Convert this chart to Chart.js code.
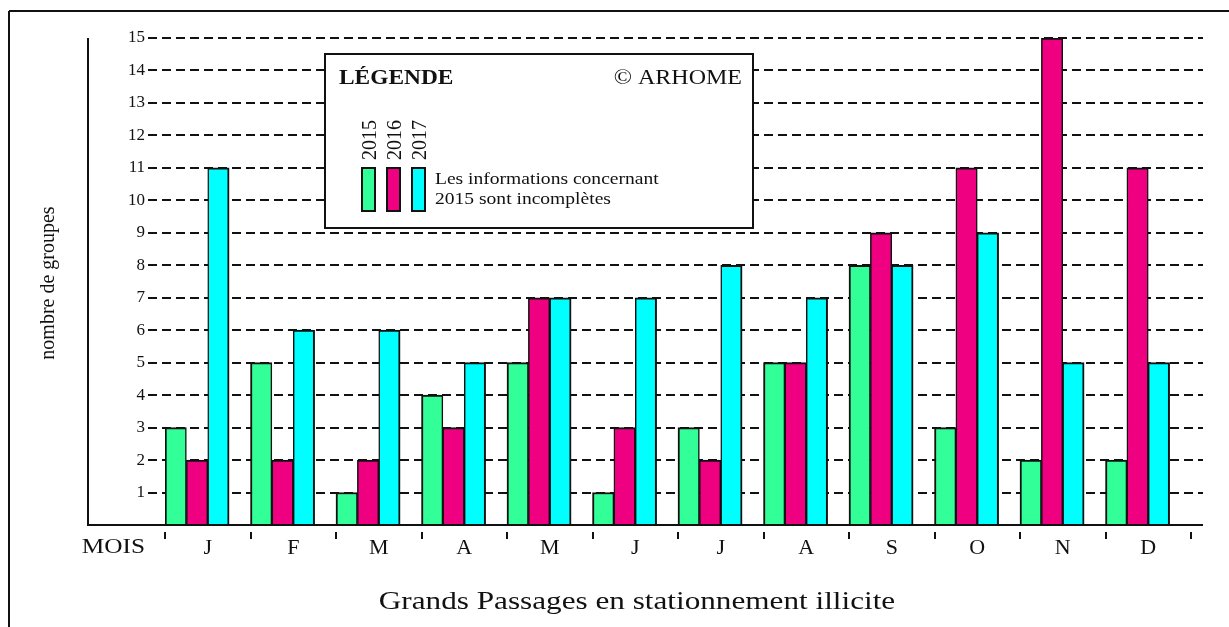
<!DOCTYPE html>
<html><head><meta charset="utf-8">
<script src="https://cdn.jsdelivr.net/npm/chart.js@4.4.1/dist/chart.umd.min.js"></script>
<style>html,body{margin:0;padding:0;background:#fff;}#wrap{width:1229px;height:627px;}</style>
</head><body><div id="wrap"><canvas id="c" width="1229" height="627"></canvas></div>
<script>
const months = ['J','F','M','A','M','J','J','A','S','O','N','D'];
const years = ['2015','2016','2017'];
const values2015 = [3,5,1,4,5,1,3,5,8,3,2,2];
const values2016 = [2,2,2,3,7,3,2,5,9,11,15,11];
const values2017 = [11,6,6,5,7,7,8,7,8,9,5,5];
const yTickValues = [1,2,3,4,5,6,7,8,9,10,11,12,13,14,15];
const colors = ['#33ff99','#ee0080','#00ffff'];
const spacer = [0,0,0,0,0,0,0,0,0,0,0,0];

const SERIF = "'Liberation Serif','Times New Roman',serif";
const INK = '#111';

function txt(ctx, s, x, y, font, align, sx) {
  ctx.save();
  ctx.font = font; ctx.textAlign = align; ctx.textBaseline = 'alphabetic';
  ctx.fillStyle = INK;
  ctx.translate(x, y); ctx.scale(sx, 1);
  ctx.fillText(s, 0, 0);
  ctx.restore();
}
function line(ctx, x1, y1, x2, y2, w) {
  ctx.beginPath(); ctx.lineWidth = w; ctx.moveTo(x1, y1); ctx.lineTo(x2, y2); ctx.stroke();
}

const deco = {
  id: 'deco',
  beforeDatasetsDraw(chart) {
    const {ctx, scales: {x, y}} = chart;
    ctx.save();
    ctx.strokeStyle = INK; ctx.setLineDash([9, 5]);
    for (const v of yTickValues) {
      const py = Math.round(y.getPixelForValue(v));
      line(ctx, x.left - 17, py, x.right + 12, py, 2);
    }
    ctx.restore();
  },
  afterDatasetsDraw(chart) {
    const {ctx, scales: {x, y}} = chart;
    ctx.save();
    ctx.strokeStyle = INK; ctx.lineCap = 'butt';
    line(ctx, 9, 11, 1229, 11, 2);
    line(ctx, 9, 11, 9, 627, 2);
    const base = y.getPixelForValue(0);
    line(ctx, 88, y.getPixelForValue(15), 88, base + 1, 2);
    line(ctx, 87, base, x.right + 12, base, 2);
    const cw = x.getPixelForValue(1) - x.getPixelForValue(0);
    for (let i = 0; i <= months.length; i++) {
      const px = Math.round(x.getPixelForValue(0) - cw / 2 + i * cw);
      line(ctx, px, base + 7, px, base + 14, 2);
    }
    txt(ctx, 'MOIS', 145, 553, '22px ' + SERIF, 'right', 1.15);
    txt(ctx, 'Grands Passages en stationnement illicite', 637, 609, '26px ' + SERIF, 'center', 1.2);
    ctx.save();
    ctx.translate(54, 283); ctx.rotate(-Math.PI / 2);
    txt(ctx, 'nombre de groupes', 0, 0, '20px ' + SERIF, 'center', 1);
    ctx.restore();
    // legend box
    ctx.fillStyle = '#fff';
    ctx.fillRect(325, 54, 428, 174);
    ctx.lineWidth = 2; ctx.strokeRect(325, 54, 428, 174);
    txt(ctx, 'LÉGENDE', 339, 84, 'bold 20px ' + SERIF, 'left', 1.17);
    txt(ctx, '© ARHOME', 742, 84, '20px ' + SERIF, 'right', 1.2);
    const sw = [362, 387, 412];
    for (let i = 0; i < 3; i++) {
      ctx.fillStyle = colors[i];
      ctx.fillRect(sw[i], 168, 13, 43);
      ctx.lineWidth = 2; ctx.strokeRect(sw[i], 168, 13, 43);
      ctx.save();
      ctx.translate(sw[i] + 14, 140); ctx.rotate(-Math.PI / 2);
      txt(ctx, years[i], 0, 0, '20px ' + SERIF, 'center', 1);
      ctx.restore();
    }
    txt(ctx, 'Les informations concernant', 435, 184, '17px ' + SERIF, 'left', 1.15);
    txt(ctx, '2015 sont incomplètes', 435, 204, '17px ' + SERIF, 'left', 1.15);
    ctx.restore();
  }
};

const seriesValues = [values2015, values2016, values2017];
const borders = [
  {left: 2, right: 1.5, top: 2, bottom: 0},
  {left: 1.5, right: 1.5, top: 2, bottom: 0},
  {left: 1.5, right: 2, top: 2, bottom: 0}
];
const datasets = seriesValues.map((d, i) => ({
  label: years[i], data: d, backgroundColor: colors[i],
  borderColor: INK, borderWidth: borders[i], borderSkipped: false
}));
datasets.push({label: '', data: spacer, backgroundColor: 'rgba(0,0,0,0)', borderWidth: 0});

new Chart(document.getElementById('c'), {
  type: 'bar',
  data: {labels: months, datasets},
  options: {
    responsive: false, animation: false, devicePixelRatio: 1,
    layout: {padding: {top: 38, right: 38, left: 0, bottom: 0}},
    plugins: {legend: {display: false}, tooltip: {enabled: false}},
    datasets: {bar: {categoryPercentage: 1, barPercentage: 1}},
    scales: {
      x: {
        grid: {display: false, drawTicks: false}, border: {display: false},
        ticks: {font: {family: SERIF, size: 22}, color: INK, padding: 10, maxRotation: 0, autoSkip: false},
        afterFit(s) { s.height = 102; }
      },
      y: {
        min: 0, max: 15,
        grid: {display: false, drawTicks: false}, border: {display: false},
        ticks: {stepSize: 1, font: {family: SERIF, size: 17}, color: INK, padding: 20,
          callback: v => (yTickValues.includes(v) ? String(v) : '')},
        afterFit(s) { s.width = 165; }
      }
    }
  },
  plugins: [deco]
});
</script></body></html>
